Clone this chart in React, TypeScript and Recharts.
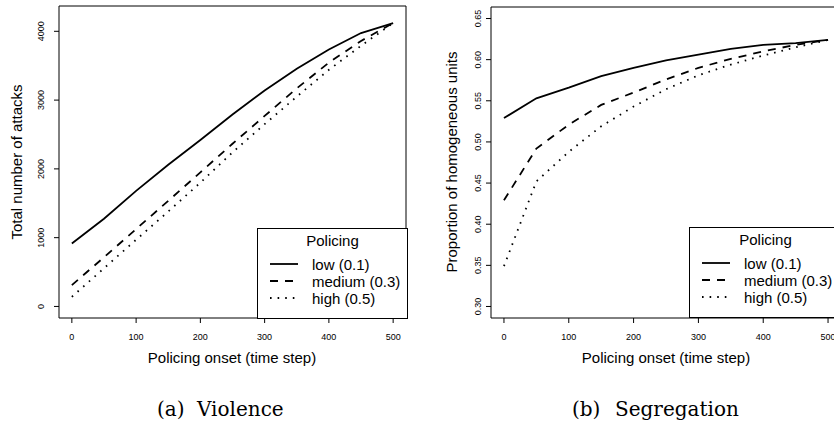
import React from "react"
import { LineChart, Line, XAxis, YAxis, ReferenceArea, Legend } from "recharts"

const SANS = "'Liberation Sans', Arial, Helvetica, sans-serif"
const SERIF = "'DejaVu Serif', serif"

// policing onset (time step)
const onset = [0, 50, 100, 150, 200, 250, 300, 350, 400, 450, 500]

// (a) total number of attacks
const violenceLow = [914, 1275, 1680, 2060, 2420, 2790, 3140, 3455, 3735, 3975, 4120]
const violenceMedium = [310, 715, 1125, 1535, 1950, 2365, 2770, 3170, 3545, 3860, 4120]
const violenceHigh = [140, 555, 970, 1380, 1800, 2240, 2650, 3050, 3440, 3790, 4120]

// (b) proportion of homogeneous units
const segregationLow = [0.529, 0.553, 0.566, 0.58, 0.59, 0.599, 0.606, 0.613, 0.618, 0.62, 0.624]
const segregationMedium = [0.429, 0.492, 0.521, 0.545, 0.56, 0.576, 0.59, 0.601, 0.61, 0.618, 0.624]
const segregationHigh = [0.349, 0.452, 0.488, 0.519, 0.543, 0.564, 0.581, 0.594, 0.605, 0.615, 0.624]

const xTicks = [0, 100, 200, 300, 400, 500]
const violenceTicks = [0, 1000, 2000, 3000, 4000]
const segregationTicks = [0.3, 0.35, 0.4, 0.45, 0.5, 0.55, 0.6, 0.65]

const levels = [
  { key: "low", label: "low (0.1)", dash: undefined as string | undefined },
  { key: "medium", label: "medium (0.3)", dash: "8 7" },
  { key: "high", label: "high (0.5)", dash: "1.6 6" },
]

const toRows = (low: number[], medium: number[], high: number[]) =>
  onset.map((t, i) => ({ t, low: low[i], medium: medium[i], high: high[i] }))

const violenceRows = toRows(violenceLow, violenceMedium, violenceHigh)
const segregationRows = toRows(segregationLow, segregationMedium, segregationHigh)

function XTick({ x, y, payload }: any) {
  return (
    <text x={x} y={y} dy={15} textAnchor="middle" fontSize={9} fill="#000" fontFamily={SANS}>
      {payload.value}
    </text>
  )
}

function makeYTick(shift: number, fmt: (v: number) => string) {
  return function YTick({ x, y, payload }: any) {
    const bx = x + shift
    return (
      <text
        x={bx}
        y={y}
        transform={`rotate(-90 ${bx} ${y})`}
        textAnchor="middle"
        fontSize={9}
        fill="#000"
        fontFamily={SANS}
      >
        {fmt(payload.value)}
      </text>
    )
  }
}

function PolicingLegend({ width, height }: { width: number; height: number }) {
  return (
    <svg width={width} height={height} style={{ display: "block", overflow: "visible" }}>
      <rect x={0.5} y={0.5} width={width - 1} height={height - 1} fill="#fff" stroke="#000" />
      <text x={width / 2} y={18} textAnchor="middle" fontSize={15} fontFamily={SANS} fill="#000">
        Policing
      </text>
      {levels.map((l, i) => (
        <g key={l.key}>
          <line x1={13} x2={41} y1={36 + i * 17} y2={36 + i * 17} stroke="#000" strokeWidth={1.8} strokeDasharray={l.dash} />
          <text x={55} y={42 + i * 17} fontSize={15} fontFamily={SANS} fill="#000">
            {l.label}
          </text>
        </g>
      ))}
    </svg>
  )
}

interface PanelProps {
  rows: typeof violenceRows
  width: number
  yAxisWidth: number
  right: number
  top: number
  yDomain: [number, number]
  yTicks: number[]
  tickShift: number
  fmt: (v: number) => string
  legendLeft: number
  legendTop: number
  legendWidth: number
}

function Panel(p: PanelProps) {
  const YTick = makeYTick(p.tickShift, p.fmt)
  return (
    <LineChart width={p.width} height={425} data={p.rows} margin={{ top: p.top, right: p.right, bottom: 77, left: 0 }}>
      <XAxis
        dataKey="t"
        type="number"
        domain={[-20, 520]}
        ticks={xTicks}
        allowDataOverflow
        axisLine={false}
        stroke="#000"
        tickSize={5}
        tickLine={{ stroke: "#000" }}
        tick={<XTick />}
        height={30}
        interval={0}
      />
      <YAxis
        type="number"
        domain={p.yDomain}
        ticks={p.yTicks}
        allowDataOverflow
        axisLine={false}
        stroke="#000"
        tickSize={5}
        tickLine={{ stroke: "#000" }}
        tick={<YTick />}
        width={p.yAxisWidth}
        interval={0}
      />
      {levels.map((l) => (
        <Line
          key={l.key}
          type="linear"
          dataKey={l.key}
          stroke="#000"
          strokeWidth={1.8}
          strokeDasharray={l.dash}
          dot={false}
          isAnimationActive={false}
        />
      ))}
      <ReferenceArea
        x1={-20}
        x2={520}
        y1={p.yDomain[0]}
        y2={p.yDomain[1]}
        fill="none"
        stroke="#000"
        strokeWidth={1}
        ifOverflow="visible"
      />
      <Legend
        layout="horizontal"
        align="center"
        verticalAlign="middle"
        wrapperStyle={{ left: p.legendLeft, top: p.legendTop, width: p.legendWidth, height: 91 }}
        content={() => <PolicingLegend width={p.legendWidth} height={91} />}
      />
    </LineChart>
  )
}

export default function App() {
  return (
    <div
      style={{
        position: "absolute",
        left: 0,
        top: 0,
        width: 834,
        height: 425,
        overflow: "hidden",
        background: "#fff",
      }}
    >
      <div style={{ position: "absolute", left: 0, top: 0 }}>
        <Panel
          rows={violenceRows}
          width={420}
          yAxisWidth={59}
          right={14}
          top={6}
          yDomain={[-168, 4368]}
          yTicks={violenceTicks}
          tickShift={-7.5}
          fmt={(v) => String(v)}
          legendLeft={257}
          legendTop={228}
          legendWidth={151}
        />
      </div>
      <div style={{ position: "absolute", left: 420, top: 0 }}>
        <Panel
          rows={segregationRows}
          width={430}
          yAxisWidth={71}
          right={9}
          top={7}
          yDomain={[0.286, 0.664]}
          yTicks={segregationTicks}
          tickShift={-3}
          fmt={(v) => v.toFixed(2)}
          legendLeft={269}
          legendTop={227}
          legendWidth={153}
        />
      </div>
      <svg width={834} height={425} style={{ position: "absolute", left: 0, top: 0, pointerEvents: "none" }}>
        <g fontFamily={SANS} fontSize={15} fill="#000">
          <text x={22} y={162} textAnchor="middle" transform="rotate(-90 22 162)">
            Total number of attacks
          </text>
          <text x={232} y={363} textAnchor="middle">
            Policing onset (time step)
          </text>
          <text x={457} y={162} textAnchor="middle" transform="rotate(-90 457 162)">
            Proportion of homogeneous units
          </text>
          <text x={666} y={363} textAnchor="middle">
            Policing onset (time step)
          </text>
        </g>
        <g fontFamily={SERIF} fontSize={20} fill="#000">
          <text x={157} y={416}>(a)</text>
          <text x={197} y={416}>Violence</text>
          <text x={572} y={416}>(b)</text>
          <text x={615} y={416}>Segregation</text>
        </g>
      </svg>
    </div>
  )
}
